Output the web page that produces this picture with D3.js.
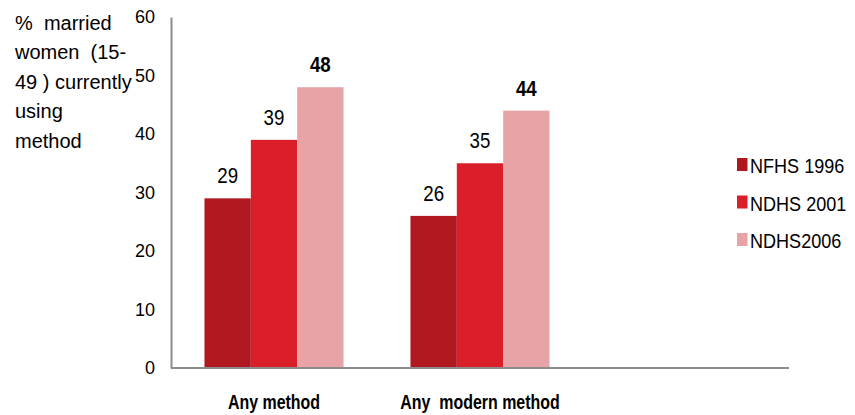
<!DOCTYPE html>
<html>
<head>
<meta charset="utf-8">
<script src="https://cdn.jsdelivr.net/npm/d3@7/dist/d3.min.js"></script>
<style>
  html, body { margin: 0; padding: 0; background: #fff; }
  svg { display: block; font-family: "Liberation Sans", Arial, sans-serif; }
</style>
</head>
<body>
<svg id="chart" width="855" height="415"></svg>
<script>
// Contraceptive use among married women, by survey round
const categories = ["Any method", "Any  modern method"];
const seriesNames = ["NFHS 1996", "NDHS 2001", "NDHS2006"];
const nfhs1996 = [29, 26];
const ndhs2001 = [39, 35];
const ndhs2006 = [48, 44];
const yTicks = [0, 10, 20, 30, 40, 50, 60];
const titleLines = ["%  married", "women  (15-", "49 ) currently", "using", "method"];

const seriesValues = [nfhs1996, ndhs2001, ndhs2006];
const colors = ["#b01820", "#da1f2a", "#e8a3a6"];
const boldLabel = [false, false, true];

const svg = d3.select("#chart");
const plotLeft = 171, plotRight = 789, plotTop = 17, plotBottom = 368;

// a third, empty slot keeps the category axis running on to the right
const slots = categories.concat([""]);
const x0 = d3.scaleBand().domain(slots).range([plotLeft, plotRight])
  .paddingInner(0.325).paddingOuter(0.1625);
const x1 = d3.scaleBand().domain(seriesNames).range([0, x0.bandwidth()]);
const y = d3.scaleLinear().domain([0, 60]).range([plotBottom, plotTop]);

// bars
const groups = svg.append("g").selectAll("g")
  .data(categories)
  .join("g")
  .attr("transform", d => `translate(${x0(d)},0)`);

groups.selectAll("rect")
  .data((c, ci) => seriesNames.map((s, si) => ({ s, si, v: seriesValues[si][ci] })))
  .join("rect")
  .attr("x", d => x1(d.s))
  .attr("y", d => y(d.v))
  .attr("width", x1.bandwidth())
  .attr("height", d => y(0) - y(d.v))
  .attr("fill", d => colors[d.si]);

// value labels
groups.selectAll("text.val")
  .data((c, ci) => seriesNames.map((s, si) => ({ s, si, v: seriesValues[si][ci] })))
  .join("text")
  .attr("class", "val")
  .attr("transform", d => `translate(${x1(d.s) + x1.bandwidth() / 2},${y(d.v) - 15}) scale(0.85,1)`)
  .attr("text-anchor", "middle")
  .attr("font-size", 22)
  .attr("font-weight", d => boldLabel[d.si] ? "bold" : "normal")
  .attr("fill", "#000")
  .text(d => d.v);

// y axis
const yAxis = svg.append("g")
  .attr("transform", `translate(${plotLeft},0)`)
  .call(d3.axisLeft(y).tickValues(yTicks).tickSize(0).tickPadding(16));
yAxis.select(".domain").attr("stroke", "#8c8c8c").attr("stroke-width", 2);
yAxis.selectAll("text")
  .attr("font-size", 18)
  .attr("font-family", "Liberation Sans, Arial, sans-serif")
  .attr("fill", "#000");

// x axis
const xAxis = svg.append("g")
  .attr("transform", `translate(0,${plotBottom})`)
  .call(d3.axisBottom(x0).tickSize(0).tickSizeOuter(0));
xAxis.select(".domain").attr("stroke", "#8c8c8c").attr("stroke-width", 2)
  .attr("d", `M${plotLeft},0H${plotRight}`);
xAxis.selectAll("text")
  .attr("y", 41).attr("dy", 0)
  .attr("transform", "scale(0.76,1)")
  .attr("font-size", 21)
  .attr("font-weight", "bold")
  .attr("font-family", "Liberation Sans, Arial, sans-serif")
  .attr("fill", "#000")
  .style("white-space", "pre");

// y axis title
svg.append("text")
  .attr("font-size", 20)
  .attr("fill", "#000")
  .style("white-space", "pre")
  .selectAll("tspan")
  .data(titleLines)
  .join("tspan")
  .attr("x", 15)
  .attr("y", (d, i) => 29.5 + i * 29.5)
  .text(d => d);

// legend
const legend = svg.append("g").selectAll("g")
  .data(seriesNames)
  .join("g")
  .attr("transform", (d, i) => `translate(737,${158 + i * 37.5})`);
legend.append("rect")
  .attr("width", 10.5).attr("height", 13)
  .attr("fill", (d, i) => colors[i]);
legend.append("text")
  .attr("transform", "translate(13,15) scale(0.86,1)")
  .attr("font-size", 21)
  .attr("fill", "#000")
  .text(d => d);
</script>
</body>
</html>
